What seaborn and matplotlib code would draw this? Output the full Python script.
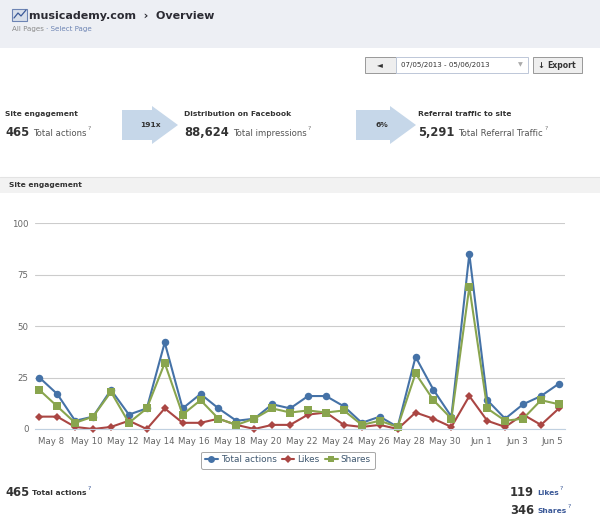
import matplotlib
matplotlib.use('Agg')
import matplotlib.pyplot as plt
import seaborn as sns
import pandas as pd
from matplotlib.patches import Polygon, Rectangle
from matplotlib.lines import Line2D

# daily values, May 7 .. Jun 5 2013
days = ['May 7', 'May 8', 'May 9', 'May 10', 'May 11', 'May 12', 'May 13', 'May 14',
        'May 15', 'May 16', 'May 17', 'May 18', 'May 19', 'May 20', 'May 21', 'May 22',
        'May 23', 'May 24', 'May 25', 'May 26', 'May 27', 'May 28', 'May 29', 'May 30',
        'May 31', 'Jun 1', 'Jun 2', 'Jun 3', 'Jun 4', 'Jun 5']
total_actions = [25, 17, 4, 6, 19, 7, 10, 42, 10, 17, 10, 4, 5, 12, 10, 16, 16, 11, 3, 6,
                 1, 35, 19, 6, 85, 14, 5, 12, 16, 22]
likes = [6, 6, 1, 0, 1, 4, 0, 10, 3, 3, 5, 2, 0, 2, 2, 7, 8, 2, 1, 2,
         0, 8, 5, 1, 16, 4, 1, 7, 2, 10]
shares = [19, 11, 3, 6, 18, 3, 10, 32, 7, 14, 5, 2, 5, 10, 8, 9, 8, 9, 2, 4,
          1, 27, 14, 5, 69, 10, 4, 5, 14, 12]
tick_labels = ['May 8', 'May 10', 'May 12', 'May 14', 'May 16', 'May 18', 'May 20', 'May 22',
               'May 24', 'May 26', 'May 28', 'May 30', 'Jun 1', 'Jun 3', 'Jun 5']
y_ticks = [0, 25, 50, 75, 100]

blue, red, green = '#4572A7', '#AA4643', '#89A54E'

df = pd.DataFrame({'day': range(len(days)), 'Total actions': total_actions,
                   'Likes': likes, 'Shares': shares})

sns.set_style('white')
plt.rcParams['font.family'] = ['DejaVu Sans']

W, H = 600, 527
fig = plt.figure(figsize=(W / 100, H / 100), dpi=100)
fig.patch.set_facecolor('white')


def fx(x):
    return x / W


def fy(y):
    return 1 - y / H


def put(x, y, s, **kw):
    kw.setdefault('va', 'center')
    return fig.text(fx(x), fy(y), s, **kw)


renderer = fig.canvas.get_renderer()


def right(t):
    return t.get_window_extent(renderer=renderer).x1


# header band
fig.add_artist(Rectangle((0, fy(48)), 1, 48 / H, transform=fig.transFigure,
                         facecolor='#EDEFF4', edgecolor='none', zorder=0))
fig.add_artist(Rectangle((fx(12), fy(21)), 15 / W, 12 / H, transform=fig.transFigure,
                         facecolor='#D8DFEA', edgecolor='#6D84B4', lw=0.8))
fig.add_artist(Line2D([fx(14), fx(18), fx(21), fx(26)], [fy(18), fy(13), fy(16), fy(10)],
                      transform=fig.transFigure, color='#3B5998', lw=0.9))
put(29, 16, 'musicademy.com  \u203a  Overview', fontsize=8, fontweight='bold', color='#2B2B33')
t = put(12, 29, 'All Pages', fontsize=5.1, color='#8A8A8A')
put(right(t) + 2, 29, '\u00b7 Select Page', fontsize=5.1, color='#6D84B4')

# date selector
fig.add_artist(Rectangle((fx(365), fy(73)), 31 / W, 16 / H, transform=fig.transFigure,
                         facecolor='#EEEEEE', edgecolor='#999999', lw=0.7))
put(380, 65, '\u25c4', fontsize=5.5, color='#333333', ha='center')
fig.add_artist(Rectangle((fx(396), fy(73)), 132 / W, 16 / H, transform=fig.transFigure,
                         facecolor='white', edgecolor='#BDC7D8', lw=0.7))
put(401, 65, '07/05/2013 - 05/06/2013', fontsize=5.1, color='#333333')
put(520, 65, '\u25bc', fontsize=4.5, color='#AAAAAA', ha='center')
fig.add_artist(Rectangle((fx(533), fy(73)), 49 / W, 16 / H, transform=fig.transFigure,
                         facecolor='#EEEEEE', edgecolor='#999999', lw=0.7))
put(541, 65, '\u2193', fontsize=6, color='#333333', ha='center', fontweight='bold')
put(547, 65, 'Export', fontsize=5.6, color='#333333', fontweight='bold')


# summary row
def arrow(x0, xb, x1, yc):
    pts = [(x0, yc - 15), (xb, yc - 15), (xb, yc - 19), (x1, yc), (xb, yc + 19),
           (xb, yc + 15), (x0, yc + 15)]
    fig.add_artist(Polygon([(fx(a), fy(b)) for a, b in pts], closed=True,
                           transform=fig.transFigure, facecolor='#C6D7E9', edgecolor='none'))


def stat(x, head, num, lab):
    put(x, 114, head, fontsize=5.4, fontweight='bold', color='#333333')
    t = put(x, 132, num, fontsize=8.3, fontweight='bold', color='#333333')
    t = put(right(t) + 4, 133, lab, fontsize=6.1, color='#555555')
    put(right(t) + 1, 128, '?', fontsize=4.5, color='#777777')


arrow(122, 152, 178, 125)
put(150, 125, '191x', fontsize=5.4, fontweight='bold', color='#333333', ha='center')
arrow(356, 390, 416, 125)
put(382, 125, '6%', fontsize=5.4, fontweight='bold', color='#333333', ha='center')
stat(5, 'Site engagement', '465', 'Total actions')
stat(184, 'Distribution on Facebook', '88,624', 'Total impressions')
stat(418, 'Referral traffic to site', '5,291', 'Total Referral Traffic')

# section band
fig.add_artist(Rectangle((0, fy(193)), 1, 16 / H, transform=fig.transFigure,
                         facecolor='#F2F2F2', edgecolor='none'))
fig.add_artist(Line2D([0, 1], [fy(177), fy(177)], transform=fig.transFigure,
                      color='#E3E3E3', lw=0.8))
put(9, 185, 'Site engagement', fontsize=5.4, fontweight='bold', color='#333333')

# chart
ax = fig.add_axes([fx(35), fy(429), 530 / W, 206 / H])
sns.lineplot(data=df, x='day', y='Total actions', ax=ax, color=blue, lw=1.5,
             marker='o', markersize=5.4, markeredgewidth=0, clip_on=False)
sns.lineplot(data=df, x='day', y='Likes', ax=ax, color=red, lw=1.5,
             marker='D', markersize=3.8, markeredgewidth=0, clip_on=False)
sns.lineplot(data=df, x='day', y='Shares', ax=ax, color=green, lw=1.5,
             marker='s', markersize=5.2, markeredgewidth=0, clip_on=False)
ax.set_xlim(-0.24, 29.34)
ax.set_ylim(0, 100)
ax.set_yticks(y_ticks)
ax.set_xticks([1 - 0.35 + 2 * i for i in range(len(tick_labels))])
ax.set_xticklabels(tick_labels)
ax.set_xlabel('')
ax.set_ylabel('')
ax.yaxis.grid(True, color='#CCCCCC', lw=0.8)
ax.set_axisbelow(True)
for s in ['top', 'right', 'left']:
    ax.spines[s].set_visible(False)
ax.spines['bottom'].set_color('#C0D0E0')
ax.spines['bottom'].set_linewidth(0.8)
ax.tick_params(axis='y', length=0, pad=4.5, labelsize=6.2, labelcolor='#666666')
ax.tick_params(axis='x', length=3.5, width=0.7, color='#C0D0E0', pad=2,
               labelsize=6.2, labelcolor='#666666')

handles = [Line2D([], [], color=blue, lw=1.5, marker='o', markersize=5, markeredgewidth=0),
           Line2D([], [], color=red, lw=1.5, marker='D', markersize=3.6, markeredgewidth=0),
           Line2D([], [], color=green, lw=1.5, marker='s', markersize=5, markeredgewidth=0)]
leg = ax.legend(handles, ['Total actions', 'Likes', 'Shares'], ncol=3, loc='center',
                bbox_to_anchor=(fx(288), fy(460)), bbox_transform=fig.transFigure,
                frameon=True, fancybox=True, fontsize=6.4, handlelength=1.4,
                handletextpad=0.35, columnspacing=0.6, borderpad=0.45, labelcolor='#3E576F')
leg.get_frame().set_edgecolor('#909090')
leg.get_frame().set_linewidth(0.7)

# totals below chart
t = put(5, 492, '465', fontsize=8.3, fontweight='bold', color='#333333')
t = put(right(t) + 3, 493, 'Total actions', fontsize=5.4, fontweight='bold', color='#333333')
put(right(t) + 1, 489, '?', fontsize=4.5, color='#3B5998')
t = put(510, 492, '119', fontsize=8.3, fontweight='bold', color='#333333')
t = put(right(t) + 3, 493, 'Likes', fontsize=5.4, fontweight='bold', color='#3B5998')
put(right(t) + 1, 489, '?', fontsize=4.5, color='#3B5998')
t = put(510, 510, '346', fontsize=8.3, fontweight='bold', color='#333333')
t = put(right(t) + 3, 511, 'Shares', fontsize=5.4, fontweight='bold', color='#3B5998')
put(right(t) + 1, 507, '?', fontsize=4.5, color='#3B5998')

fig.savefig('out.png', dpi=100)
